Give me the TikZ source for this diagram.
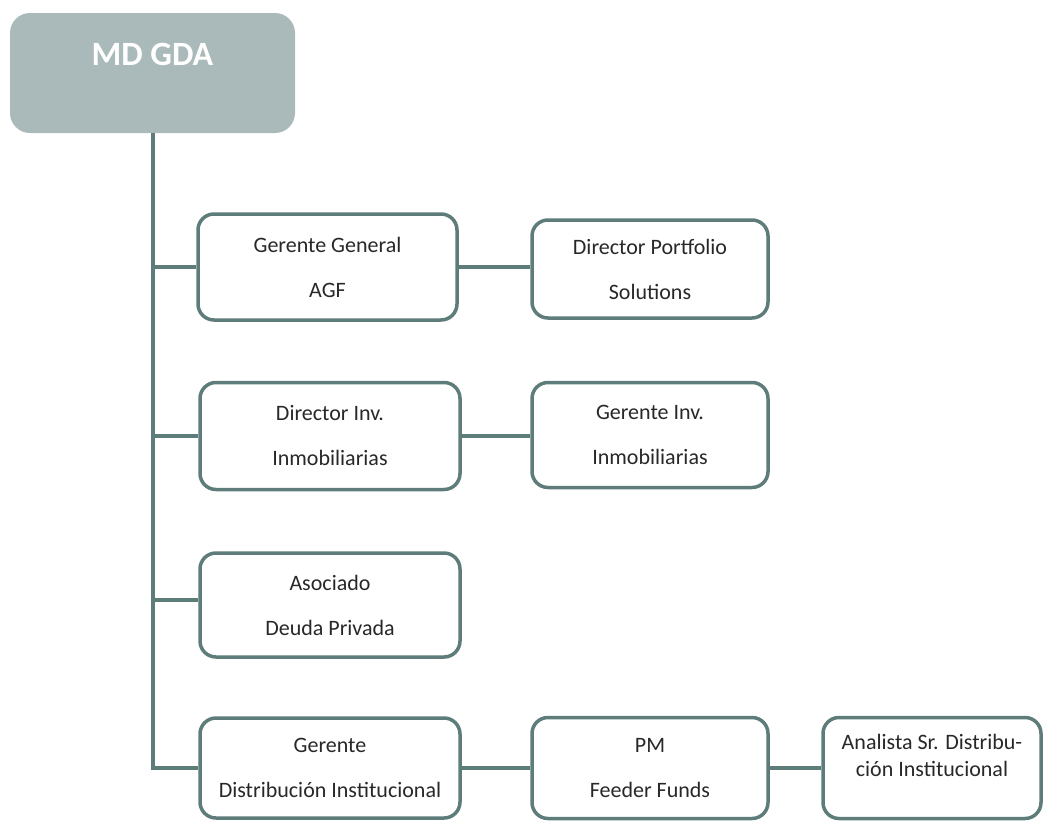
\documentclass[tikz,border=0pt]{standalone}
\usepackage{fontspec}
\setmainfont{Carlito}
\definecolor{edgegray}{RGB}{94,124,121}
\definecolor{topgray}{RGB}{170,185,185}
\definecolor{txtgray}{RGB}{40,40,40}
\tikzset{
  role/.style={draw=edgegray, line width=3.5pt, rounded corners=16pt, fill=white,
    inner sep=0pt, align=center, text=txtgray, font=\fontsize{22}{45}\selectfont},
  topbox/.style={fill=topgray, rounded corners=20pt, inner sep=0pt,
    minimum width=285pt, minimum height=120pt},
  link/.style={draw=edgegray, line width=3.5pt}
}
\begin{document}
\begin{tikzpicture}[x=1pt, y=-1pt]
  \useasboundingbox (0,0) rectangle (1044,822);
  \node[topbox] (md) at (152.5,73) {};
  \node[text=white, font=\fontsize{34}{40}\selectfont\bfseries] (mdname) at (152.5,54) {MD GDA};
  \node[role, minimum width=259pt, minimum height=106pt] (gg) at (327.5,267) {Gerente General\\AGF};
  \node[role, minimum width=236pt, minimum height=98pt] (dps) at (650,269) {Director Portfolio\\Solutions};
  \node[role, minimum width=260pt, minimum height=107pt] (dii) at (330,436) {Director Inv.\\Inmobiliarias};
  \node[role, minimum width=236pt, minimum height=105pt] (gii) at (650,435) {Gerente Inv.\\Inmobiliarias};
  \node[role, minimum width=260pt, minimum height=104pt] (adp) at (330,605) {Asociado\\Deuda Privada};
  \node[role, minimum width=260pt, minimum height=100pt] (gdi) at (330,768) {Gerente\\Distribución Institucional};
  \node[role, minimum width=236pt, minimum height=101pt] (pmff) at (650,768) {PM\\Feeder Funds};
  \node[role, minimum width=218pt, minimum height=101pt] (asdi) at (932,768) {};
  \node[align=center, inner sep=0pt, text=txtgray, font=\fontsize{22}{27}\selectfont]
    (asditext) at (932,755) {Analista Sr. Distribu-\\ción Institucional};
  \coordinate (trunk) at (153,133);
  \begin{scope}[link]
    \draw (trunk) |- (gdi.west);
    \draw (trunk |- gg.west) -- (gg.west);
    \draw (trunk |- dii.west) -- (dii.west);
    \draw (153,600) -- (adp.west |- 0,600);
    \draw (gg.east) -- (dps.west |- gg.east);
    \draw (dii.east) -- (gii.west |- dii.east);
    \draw (gdi.east) -- (pmff.west);
    \draw (pmff.east) -- (asdi.west);
  \end{scope}
\end{tikzpicture}
\end{document}
